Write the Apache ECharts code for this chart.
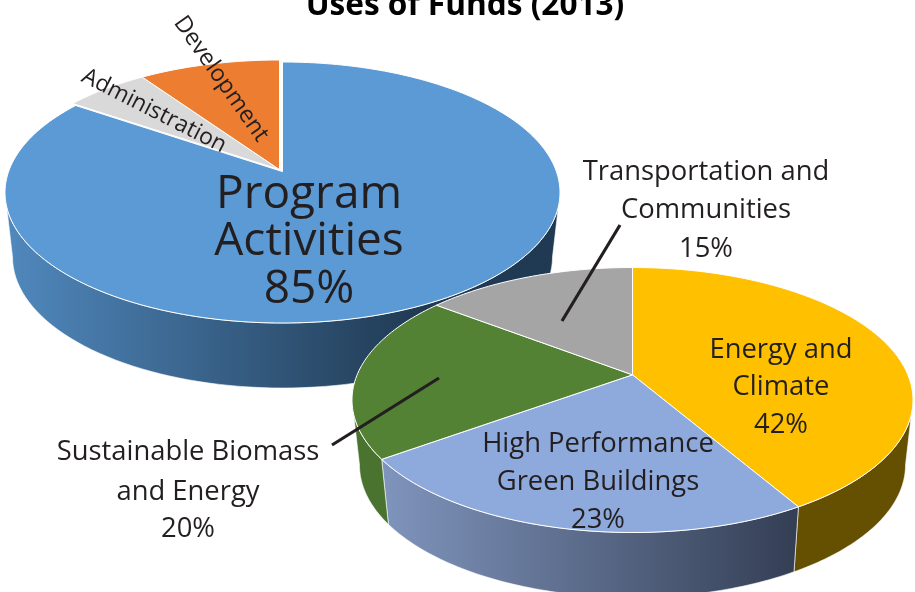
<!DOCTYPE html>
<html>
<head>
<meta charset="utf-8">
<style>html,body{margin:0;padding:0;background:#fff}#c{width:915px;height:592px}</style>
<script src="https://cdn.jsdelivr.net/npm/echarts@6/dist/echarts.min.js"></script>
</head>
<body>
<div id="c"></div>
<script>
// ---- data ----
const titleText = 'Uses of Funds (2013)';
const fundNames = ['Program Activities', 'Administration', 'Development'];
const fundValues = [84.6, 5.8, 9.6];
const programNames = ['Energy and Climate', 'High Performance Green Buildings', 'Sustainable Biomass and Energy', 'Transportation and Communities'];
const programValues = [41.6, 23.4, 20.4, 14.6];

// ---- layout & style (kept apart from the data) ----
const FONT = '"Open Sans", "Noto Sans", sans-serif';
const INK = '#231f20';
const pies = [
  { names: fundNames, values: fundValues, cx: 282.5, cy: 192.5, rx: 277.5, ry: 130.5, a: -0.16,
    bcx: 282.5, bcy: 257, brx: 270, bry: 131,
    shifts: [[0, 0], [-3, -2], [-3, -2]],
    fills: ['#5b9ad5', '#d9d9d9', '#ed7d31'],
    walls: [{ x0: 8, x1: 420, stops: ['#5088bd', '#203a53'] }, null, null] },
  { names: programNames, values: programValues, cx: 632.5, cy: 400, rx: 280.5, ry: 132.5, a: -0.19,
    bcx: 632.5, bcy: 465, brx: 273, bry: 132.5,
    shifts: [[0, 0], [0, 0], [0, 0], [0, 0]],
    fills: ['#ffc000', '#8ea9db', '#548235', '#a5a5a5'],
    walls: [{ x0: 790, x1: 913, stops: ['#654f00', '#654f00'] },
            { x0: 385, x1: 795, stops: ['#7f94bc', '#343f55'] },
            { x0: 355, x1: 390, stops: ['#4a7330', '#4a7330'] }, null] }
];
const pct = v => Math.round(v) + '%';
const labels = [
  { lines: ['Program', 'Activities', pct(fundValues[0])], x: 309, ys: [195, 242, 290], size: 46 },
  { lines: ['Transportation and', 'Communities', pct(programValues[3])], x: 706, ys: [172, 210, 249], size: 27.4 },
  { lines: ['Energy and', 'Climate', pct(programValues[0])], x: 781, ys: [350, 387, 425], size: 27.4 },
  { lines: ['High Performance', 'Green Buildings', pct(programValues[1])], x: 598, ys: [444, 482, 520], size: 27.4 },
  { lines: ['Sustainable Biomass', 'and Energy', pct(programValues[2])], x: 188, ys: [452, 492, 529], size: 27.4 },
  { lines: [fundNames[1]], x: 154, ys: [111], size: 23, rot: 27 },
  { lines: [fundNames[2]], x: 221, ys: [79], size: 23.5, rot: 55 }
];
const leaders = [
  [[620, 225], [562, 321]],
  [[439, 378], [332, 445]]
];

// ---- geometry: rim point of a tilted pie for a cumulative share ----
function rim(p, share) {
  const t = share / 100 * 2 * Math.PI, x = Math.sin(t), y = -Math.cos(t), d = 1 + p.a * y;
  return [x * Math.sqrt(1 - p.a * p.a) / d, (y + p.a) / d];
}
function sliceItems() {
  const out = [];
  pies.forEach((p, pi) => {
    let acc = 0;
    p.values.forEach((v, i) => { out.push([pi, i, acc, acc + v]); acc += v; });
  });
  return out;
}
function renderSlice(params, api) {
  const p = pies[api.value(0)], i = api.value(1), from = api.value(2), to = api.value(3);
  const [sx, sy] = p.shifts[i];
  const children = [];
  // wall, drawn in the ellipse's own angle, front half only
  const w = p.walls[i];
  if (w) {
    const ang = q => { const r = rim(p, q); return Math.atan2(r[1], r[0]); };
    let f0 = ang(from), f1 = ang(to);
    if (f0 < -Math.PI / 2 - 0.01) f0 += 2 * Math.PI;
    if (f1 < f0) f1 += 2 * Math.PI;
    f0 = Math.max(f0, 0); f1 = Math.min(f1, Math.PI);
    if (f1 > f0) {
      const top = [], bot = [];
      for (let k = 0; k <= 80; k++) {
        const f = f0 + (f1 - f0) * k / 80;
        top.push(api.coord([p.cx + sx + p.rx * Math.cos(f), p.cy + sy + p.ry * Math.sin(f)]));
        bot.unshift(api.coord([p.bcx + sx + p.brx * Math.cos(f), p.bcy + sy + p.bry * Math.sin(f)]));
      }
      children.push({
        type: 'polygon', z2: 1, shape: { points: top.concat(bot) },
        style: {
          fill: new echarts.graphic.LinearGradient(w.x0, 0, w.x1, 0,
            [{ offset: 0, color: w.stops[0] }, { offset: 1, color: w.stops[1] }], true),
          stroke: '#ffffff', lineWidth: 0.6
        }
      });
    }
  }
  // top face
  const pts = [api.coord([p.cx + sx, p.cy + p.a * p.ry + sy])];
  const n = Math.max(8, Math.ceil((to - from) * 3));
  for (let k = 0; k <= n; k++) {
    const r = rim(p, from + (to - from) * k / n);
    pts.push(api.coord([p.cx + sx + p.rx * r[0], p.cy + sy + p.ry * r[1]]));
  }
  children.push({
    type: 'polygon', z2: 2, shape: { points: pts },
    style: { fill: p.fills[i], stroke: '#ffffff', lineWidth: 1, lineJoin: 'round' }
  });
  return { type: 'group', children };
}
function renderLeader(params, api) {
  const l = leaders[params.dataIndex];
  return { type: 'line', shape: { x1: api.coord(l[0])[0], y1: api.coord(l[0])[1], x2: api.coord(l[1])[0], y2: api.coord(l[1])[1] },
    style: { stroke: INK, lineWidth: 3.2 } };
}
function renderLabel(params, api) {
  const l = labels[params.dataIndex];
  return { type: 'group', children: l.lines.map((t, j) => {
    const c = api.coord([l.x, l.ys[j]]);
    return { type: 'text', x: c[0], y: c[1], rotation: -(l.rot || 0) * Math.PI / 180,
      style: { text: t, fill: INK, font: '400 ' + l.size + 'px ' + FONT, align: 'center', verticalAlign: 'middle' } };
  }) };
}

const chart = echarts.init(document.getElementById('c'), null, { renderer: 'canvas' });
chart.setOption({
  animation: false,
  backgroundColor: '#ffffff',
  title: { text: titleText, left: 460, top: -15, textAlign: 'center',
    textStyle: { fontFamily: FONT, fontWeight: 700, fontSize: 31.6, color: '#000000' } },
  grid: { left: 0, right: 0, top: 0, bottom: 0 },
  xAxis: { type: 'value', min: 0, max: 915, show: false },
  yAxis: { type: 'value', min: 0, max: 592, inverse: true, show: false },
  series: [
    { type: 'custom', coordinateSystem: 'cartesian2d', z: 2, clip: false, silent: true,
      data: sliceItems(), renderItem: renderSlice, encode: { x: 2, y: 3 } },
    { type: 'custom', coordinateSystem: 'cartesian2d', z: 3, clip: false, silent: true,
      data: leaders.map((l, i) => [i, i]), renderItem: renderLeader },
    { type: 'custom', coordinateSystem: 'cartesian2d', z: 4, clip: false, silent: true,
      data: labels.map((l, i) => [i, i]), renderItem: renderLabel }
  ]
});
</script>
</body>
</html>
